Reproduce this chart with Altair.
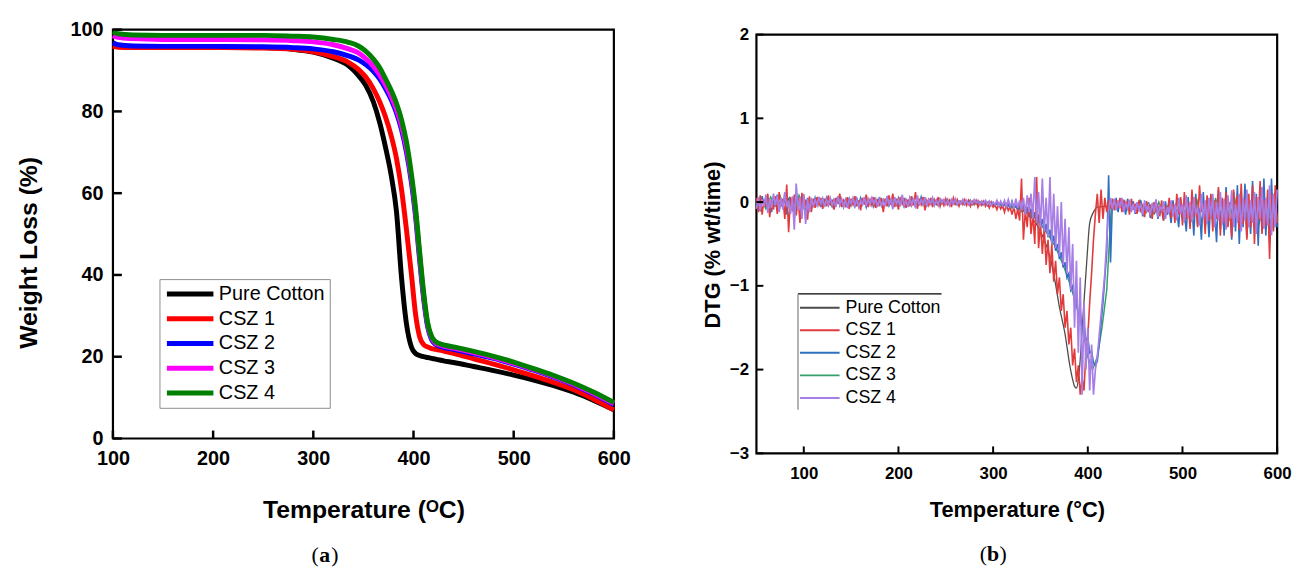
import altair as alt
import pandas as pd

# ---------------- Panel (a): TGA ----------------
series_names = ["Pure Cotton", "CSZ 1", "CSZ 2", "CSZ 3", "CSZ 4"]
tga_colors = ["#000000", "#ff0000", "#0000ff", "#ff00ff", "#008000"]

tga_temp = [100, 105, 120, 150, 200, 250, 280, 300,
            320, 335, 345, 352, 360, 366, 372, 378, 383, 388,
            393, 398, 402, 406, 410, 414, 418, 422, 426, 430,
            440, 460, 480, 500, 520, 540, 560, 580, 600]
tga_pure = [96.2, 95.9, 95.7, 95.7, 95.7, 95.6, 95.2, 94.5,
            93.0, 91.2, 88.8, 86.5, 82.3, 77.5, 71.3, 64.0, 55.5, 39.5,
            28.0, 22.3, 20.8, 20.3, 20.0, 19.8, 19.6, 19.4, 19.2, 19.0,
            18.6, 17.6, 16.6, 15.5, 14.3, 12.9, 11.3, 9.3, 7.0]
tga_csz1 = [95.9, 95.7, 95.6, 95.6, 95.6, 95.5, 95.2, 94.6,
            93.4, 92.0, 90.3, 88.5, 85.5, 82.5, 78.7, 73.8, 68.5, 61.0,
            51.0, 40.0, 30.5, 25.0, 23.0, 22.4, 22.0, 21.8, 21.6, 21.4,
            20.8, 19.5, 18.2, 16.8, 15.3, 13.7, 11.9, 9.6, 7.0]
tga_csz2 = [96.8, 96.3, 96.0, 95.9, 95.9, 95.8, 95.6, 95.3,
            94.6, 93.6, 92.6, 91.5, 89.8, 88.0, 85.6, 82.7, 79.6, 75.6,
            70.0, 62.5, 54.5, 44.0, 34.5, 27.5, 24.2, 23.0, 22.6, 22.3,
            21.8, 20.7, 19.6, 18.2, 16.7, 15.0, 13.1, 10.8, 8.3]
tga_csz3 = [98.5, 98.1, 97.8, 97.6, 97.6, 97.5, 97.3, 97.0,
            96.3, 95.3, 94.3, 93.0, 91.0, 89.0, 86.5, 83.5, 80.5, 76.5,
            71.0, 63.5, 55.5, 45.0, 35.2, 28.0, 24.6, 23.3, 22.9, 22.6,
            22.1, 21.0, 19.8, 18.4, 16.9, 15.2, 13.3, 11.0, 8.5]
tga_csz4 = [99.5, 99.0, 98.7, 98.6, 98.6, 98.6, 98.4, 98.2,
            97.6, 96.9, 96.0, 94.8, 92.8, 90.8, 88.0, 85.0, 82.0, 78.0,
            72.5, 64.5, 56.5, 46.0, 36.0, 28.5, 25.0, 23.7, 23.2, 22.9,
            22.4, 21.3, 20.1, 18.7, 17.1, 15.4, 13.5, 11.3, 8.8]
tga_xticks = [100, 200, 300, 400, 500, 600]
tga_yticks = [0, 20, 40, 60, 80, 100]

# ---------------- Panel (b): DTG ----------------
dtg_colors = ["#4d4d4d", "#e23b3b", "#2f6fc0", "#35a06c", "#a77de6"]
dtg_temp = list(range(50, 601, 2))        # sampling grid of the noisy curves
dtg_temp_csz3 = list(range(50, 601, 5))

dtg_pure_temp = [50, 100, 150, 200, 250, 300,
                 320, 335, 345, 352, 360, 365, 370, 376, 381, 384,
                 386, 388, 390, 392, 395, 399, 402, 406, 410, 420,
                 450, 500, 550, 600]
dtg_pure = [-0.02, 0.0, 0.0, 0.0, 0.0, -0.02,
            -0.05, -0.12, -0.25, -0.4, -0.65, -0.92, -1.25, -1.58, -1.95, -2.12,
            -2.2, -2.22, -2.12, -1.88, -1.35, -0.69, -0.25, -0.12, -0.06, -0.05,
            -0.07, -0.1, -0.12, -0.15]

dtg_csz1 = [
    0.05, -0.12, 0.08, -0.15, 0.03, -0.06, 0.1, -0.18, 0.02, -0.09,
    0.07, -0.14, 0.12, -0.05, 0.04, -0.2, 0.21, -0.36, 0.06, -0.11,
    0.09, -0.16, 0.05, -0.25, 0.11, -0.08, 0.03, -0.21, 0.07, -0.12,
    0.04, -0.07, 0.06, -0.03, 0.05, -0.08, 0.02, -0.05, 0.08, -0.04,
    0.03, -0.09, 0.05, -0.02, 0.1, -0.06, 0.02, -0.04, 0.06, -0.08,
    0.04, -0.03, 0.07, -0.05, 0.02, -0.1, 0.05, -0.03, 0.09, -0.06,
    0.03, -0.04, 0.06, -0.07, 0.02, -0.03, 0.05, -0.12, 0.04, -0.05,
    0.08, -0.03, 0.1, -0.06, 0.04, -0.09, 0.06, -0.02, 0.05, -0.07,
    0.03, -0.05, 0.07, -0.04, 0.12, -0.08, 0.04, -0.03, 0.06, -0.1,
    0.02, -0.04, 0.05, -0.06, 0.03, -0.02, 0.06, -0.05, 0.02, -0.04,
    0.04, -0.03, 0.02, -0.06, 0.05, -0.02, 0.03, -0.05, 0.01, -0.03,
    0.03, -0.04, 0.02, -0.05, 0.01, -0.03, 0.02, -0.06, 0.0, -0.04,
    0.01, -0.05, -0.01, -0.07, 0.0, -0.06, -0.03, -0.09, -0.02, -0.08,
    -0.04, -0.12, -0.03, -0.1, -0.06, -0.15, -0.05, -0.2, -0.08, -0.22,
    0.28, -0.45, -0.1, -0.3, 0.05, -0.38, -0.15, -0.5, 0.3, -0.55,
    -0.25, -0.62, -0.3, -0.75, -0.45, -0.85, -0.5, -0.95, -0.7, -1.1,
    -0.9, -1.3, -1.1, -1.5, -1.3, -1.7, -1.5, -1.95, -1.75, -2.15,
    -1.95, -2.3, -2.1, -2.25, -1.8, -1.6, -1.2, -0.85, -0.45, -0.15,
    0.1, -0.25, 0.15, -0.2, 0.05, -0.12, 0.02, -0.08, 0.04, -0.1,
    0.02, -0.07, 0.05, -0.12, 0.03, -0.06, 0.01, -0.15, 0.04, -0.09,
    -0.02, -0.14, 0.02, -0.1, -0.04, -0.18, 0.01, -0.12, -0.03, -0.2,
    0.0, -0.11, -0.05, -0.17, 0.02, -0.22, -0.04, -0.13, 0.05, -0.19,
    -0.02, -0.25, 0.1, -0.15, 0.06, -0.28, 0.12, -0.2, 0.0, -0.32,
    0.15, -0.18, 0.05, -0.3, 0.2, -0.12, -0.02, -0.38, 0.08, -0.22,
    0.1, -0.35, 0.02, -0.2, 0.18, -0.4, 0.05, -0.25, 0.12, -0.3,
    0.0, -0.42, 0.15, -0.18, 0.08, -0.33, 0.22, -0.27, 0.04, -0.45,
    0.1, -0.3, 0.2, -0.5, 0.06, -0.22, 0.25, -0.38, 0.03, -0.28,
    0.15, -0.68, 0.1, -0.35, 0.2, -0.25]

dtg_csz2 = [
    -0.06, 0.04, -0.11, 0.07, -0.03, 0.05, -0.09, 0.02, -0.12, 0.06,
    -0.05, 0.09, -0.1, 0.03, -0.07, 0.1, -0.15, 0.05, -0.08, 0.04,
    -0.18, 0.12, -0.06, 0.03, -0.14, 0.08, -0.2, 0.05, -0.09, 0.03,
    -0.04, 0.05, -0.03, 0.02, -0.06, 0.04, -0.02, 0.05, -0.04, 0.02,
    -0.05, 0.03, -0.02, 0.06, -0.04, 0.02, -0.06, 0.03, -0.03, 0.04,
    -0.04, 0.02, -0.05, 0.04, -0.03, 0.05, -0.02, 0.03, -0.06, 0.02,
    -0.02, 0.04, -0.05, 0.02, -0.03, 0.06, -0.04, 0.03, -0.02, 0.05,
    -0.04, 0.02, -0.06, 0.03, -0.03, 0.05, -0.02, 0.04, -0.05, 0.03,
    -0.03, 0.05, -0.04, 0.02, -0.05, 0.04, -0.02, 0.06, -0.03, 0.02,
    -0.04, 0.03, -0.02, 0.04, -0.03, 0.02, -0.04, 0.03, -0.02, 0.02,
    -0.02, 0.03, -0.03, 0.02, -0.01, 0.02, -0.03, 0.01, -0.02, 0.02,
    -0.03, 0.01, -0.02, 0.02, -0.03, 0.0, -0.02, 0.01, -0.03, 0.01,
    -0.03, 0.0, -0.04, 0.01, -0.03, -0.01, -0.05, 0.0, -0.04, -0.02,
    -0.06, 0.0, -0.05, -0.03, -0.08, 0.01, -0.07, -0.04, -0.1, -0.02,
    -0.12, -0.03, -0.15, -0.06, -0.18, -0.08, -0.22, -0.12, -0.26, -0.15,
    -0.3, -0.2, -0.36, -0.26, -0.42, -0.33, -0.5, -0.4, -0.58, -0.5,
    -0.68, -0.6, -0.78, -0.72, -0.9, -0.85, -1.05, -1.0, -1.2, -1.15,
    -1.35, -1.3, -1.5, -1.45, -1.65, -1.62, -1.8, -1.78, -1.92, -1.95,
    -1.9, -1.7, -1.45, -1.2, -0.9, -0.6, 0.32, -0.72, 0.02, -0.08,
    0.05, -0.12, 0.03, -0.08, -0.02, -0.15, 0.04, -0.06, -0.1, 0.01,
    -0.14, -0.03, -0.09, 0.02, -0.17, -0.05, -0.11, 0.0, -0.19, -0.07,
    -0.12, 0.03, -0.2, -0.04, -0.1, -0.22, 0.01, -0.15, -0.08, -0.25,
    0.02, -0.18, -0.1, -0.3, 0.04, -0.2, -0.12, -0.35, 0.06, -0.24,
    -0.05, -0.4, 0.1, -0.28, -0.08, -0.45, 0.12, -0.3, -0.02, -0.42,
    0.08, -0.25, -0.1, -0.48, 0.15, -0.32, 0.02, -0.4, 0.18, -0.28,
    -0.05, -0.45, 0.12, -0.35, 0.2, -0.5, 0.05, -0.3, 0.22, -0.42,
    0.0, -0.38, 0.25, -0.3, 0.1, -0.52, 0.18, -0.35, 0.28, -0.4,
    0.05, -0.48, 0.28, -0.32, 0.12, -0.3]

dtg_csz3 = [
    -0.05, 0.04, -0.08, 0.06, -0.04, 0.07, -0.1, 0.05, -0.12, 0.08,
    -0.06, 0.03, -0.04, 0.05, -0.03, 0.02, -0.05, 0.04, -0.02, 0.03,
    -0.03, 0.02, -0.04, 0.03, -0.02, 0.04, -0.03, 0.02, -0.04, 0.03,
    -0.02, 0.03, -0.04, 0.02, -0.03, 0.04, -0.02, 0.03, -0.03, 0.02,
    -0.02, 0.02, -0.03, 0.01, -0.02, 0.02, -0.03, 0.01, -0.02, 0.0,
    -0.03, -0.01, -0.05, -0.03, -0.07, -0.06, -0.1, -0.12, -0.16, -0.2,
    -0.26, -0.34, -0.42, -0.52, -0.64, -0.78, -0.94, -1.12, -1.32, -1.55,
    -1.85, -2.0, -1.85, -1.5, -1.05, -0.02, -0.06, 0.03, -0.08, -0.02,
    -0.1, 0.02, -0.12, -0.03, -0.14, 0.0, -0.15, -0.04, -0.12, 0.02,
    -0.18, -0.05, -0.2, 0.04, -0.22, -0.06, -0.18, 0.05, -0.25, -0.08,
    -0.2, 0.06, -0.28, -0.1, -0.18, 0.08, -0.3, -0.05, -0.22, 0.1,
    -0.2]

dtg_csz4 = [
    -0.08, 0.06, -0.1, 0.03, -0.05, 0.09, -0.13, 0.04, -0.07, 0.1,
    -0.04, 0.08, -0.12, 0.05, -0.09, 0.12, -0.06, 0.02, -0.14, 0.07,
    -0.33, 0.22, -0.1, 0.06, -0.2, 0.1, -0.26, 0.04, -0.12, 0.05,
    -0.05, 0.03, -0.04, 0.06, -0.02, 0.04, -0.06, 0.03, -0.03, 0.05,
    -0.04, 0.02, -0.06, 0.07, -0.03, 0.04, -0.05, 0.02, -0.07, 0.03,
    -0.02, 0.05, -0.04, 0.03, -0.06, 0.02, -0.03, 0.06, -0.05, 0.04,
    -0.03, 0.05, -0.02, 0.04, -0.06, 0.03, -0.04, 0.02, -0.05, 0.07,
    -0.03, 0.04, -0.08, 0.06, -0.02, 0.03, -0.05, 0.09, -0.04, 0.02,
    -0.06, 0.04, -0.03, 0.05, -0.07, 0.08, -0.04, 0.03, -0.02, 0.06,
    -0.05, 0.03, -0.02, 0.05, -0.04, 0.02, -0.03, 0.04, -0.01, 0.03,
    -0.03, 0.02, -0.04, 0.03, -0.02, 0.04, -0.03, 0.01, -0.02, 0.03,
    -0.02, 0.02, -0.03, 0.01, -0.02, 0.03, -0.01, 0.02, -0.03, 0.01,
    -0.02, 0.02, -0.03, 0.01, -0.04, 0.0, -0.03, 0.02, -0.05, 0.01,
    -0.04, 0.02, -0.06, 0.03, -0.05, 0.0, -0.08, 0.04, -0.07, 0.02,
    -0.1, 0.05, -0.15, 0.08, -0.12, 0.1, -0.2, 0.3, -0.25, 0.12,
    -0.3, 0.28, -0.35, 0.05, -0.42, 0.3, -0.5, 0.1, -0.55, -0.05,
    -0.65, 0.0, -0.75, -0.2, -0.85, -0.3, -1.05, -0.5, -1.5, -0.7,
    -1.8, -0.9, -2.3, -1.2, -2.0, -1.5, -2.25, -1.7, -2.3, -2.0,
    -1.85, -1.6, -1.35, -1.1, -0.85, -0.45, -0.1, 0.05, -0.08, 0.04,
    -0.1, 0.02, -0.07, 0.05, -0.12, -0.01, -0.08, 0.03, -0.11, -0.02,
    -0.13, 0.0, -0.09, -0.02, -0.15, 0.02, -0.1, -0.04, -0.16, -0.01,
    -0.12, 0.03, -0.18, -0.05, -0.1, 0.01, -0.2, -0.06, -0.13, 0.02,
    -0.17, -0.03, -0.22, 0.05, -0.14, -0.02, -0.25, 0.08, -0.18, 0.0,
    -0.24, 0.06, -0.15, -0.05, -0.28, 0.1, -0.2, 0.02, -0.26, 0.05,
    -0.18, 0.1, -0.3, 0.0, -0.22, 0.12, -0.27, 0.04, -0.33, 0.08,
    -0.2, 0.14, -0.3, -0.02, -0.25, 0.1, -0.35, 0.05, -0.22, 0.15,
    -0.3, 0.02, -0.25, 0.12, -0.38, 0.06, -0.2, 0.18, -0.32, 0.05,
    -0.28, 0.2, -0.4, 0.1, -0.3, 0.15]

dtg_xticks = [100, 200, 300, 400, 500, 600]
dtg_yticks = [-3, -2, -1, 0, 1, 2]

# ---------------- layout constants ----------------
W_A, H_A = 506, 413
W_B, H_B = 526, 423
B_DROP = 5          # panel (b) frame sits a little lower than panel (a)
FONT = "Liberation Sans"
one = pd.DataFrame({"k": [0]})


def ghost(x, y, align):
    # invisible text that fixes the bounds of a panel
    return alt.Chart(one).mark_text(text="x", opacity=0, fontSize=10, align=align,
                                    baseline="top").encode(x=alt.value(x), y=alt.value(y))


def caption(letter, cx, cy):
    common = dict(font="Liberation Serif", fontSize=22, baseline="middle", color="black")
    return [
        alt.Chart(one).mark_text(text="(", align="right", **common).encode(
            x=alt.value(cx - 6), y=alt.value(cy)),
        alt.Chart(one).mark_text(text=letter, align="center", fontWeight="bold", **common).encode(
            x=alt.value(cx), y=alt.value(cy)),
        alt.Chart(one).mark_text(text=")", align="left", **common).encode(
            x=alt.value(cx + 6.5), y=alt.value(cy)),
    ]


# ---------------- Panel (a) ----------------
xa_axis = alt.Axis(values=tga_xticks, title="Temperature (ᴼC)", titleFont=FONT, titleFontSize=25,
                   titleFontWeight="bold", titleColor="black", titleX=W_A / 2, titleY=72,
                   titleBaseline="middle", titleAlign="center",
                   labelFont=FONT, labelFontSize=20, labelFontWeight="bold", labelColor="black",
                   labelPadding=10, ticks=False, domain=False, grid=False, labelFlush=False,
                   labelOverlap=False)
ya_axis = alt.Axis(values=tga_yticks, title="Weight Loss (%)", titleFont=FONT, titleFontSize=25,
                   titleFontWeight="bold", titleColor="black", titleX=-85, titleY=225,
                   titleBaseline="middle", titleAlign="center",
                   labelFont=FONT, labelFontSize=20, labelFontWeight="bold", labelColor="black",
                   labelPadding=10, ticks=False, domain=False, grid=False, labelFlush=False,
                   labelOverlap=False)
xa = alt.X("T:Q", scale=alt.Scale(domain=[100, 600], nice=False, zero=False), axis=xa_axis)
ya = alt.Y("V:Q", scale=alt.Scale(domain=[0, 100], nice=False), axis=ya_axis)
legend_a = alt.Legend(title=None, orient="none", legendX=47, legendY=252, direction="vertical",
                      symbolType="stroke", symbolSize=2209, symbolStrokeWidth=5, clipHeight=20,
                      rowPadding=5, labelFont=FONT, labelFontSize=20, labelColor="black",
                      labelOffset=3, padding=5, strokeColor="#8c8c8c", fillColor="white")
color_a = alt.Color("Sample:N", scale=alt.Scale(domain=series_names, range=tga_colors),
                    legend=legend_a)

tga_values = [tga_pure, tga_csz1, tga_csz2, tga_csz3, tga_csz4]
layers_a = []
for name, vals in zip(series_names, tga_values):
    df = pd.DataFrame({"T": tga_temp, "V": vals, "Sample": name})
    layers_a.append(alt.Chart(df).mark_line(strokeWidth=5, interpolate="monotone")
                    .encode(x=xa, y=ya, color=color_a))

ticks_xa = alt.Chart(pd.DataFrame({"T": tga_xticks})).mark_rule(color="black", strokeWidth=2.5).encode(
    x=xa, y=alt.value(H_A), y2=alt.value(H_A - 8))
ticks_ya = alt.Chart(pd.DataFrame({"V": tga_yticks})).mark_rule(color="black", strokeWidth=2.5).encode(
    y=ya, x=alt.value(0), x2=alt.value(9))

panel_a = alt.layer(*layers_a, ticks_xa, ticks_ya, *caption("a", 214, 531),
                    ghost(-104, -17, "left"), ghost(530, -17, "right")).properties(
    width=W_A, height=H_A)

# ---------------- Panel (b) ----------------
xb_axis = alt.Axis(values=dtg_xticks, title="Temperature (°C)", titleFont=FONT, titleFontSize=22,
                   titleFontWeight="bold", titleColor="black", titleX=W_B / 2, titleY=57,
                   titleBaseline="middle", titleAlign="center",
                   labelFont=FONT, labelFontSize=17, labelFontWeight="bold", labelColor="black",
                   labelPadding=12, ticks=False, domain=False, grid=False, labelFlush=False,
                   labelOverlap=False)
yb_axis = alt.Axis(values=dtg_yticks, title="DTG (% wt/time)", titleFont=FONT, titleFontSize=22,
                   titleFontWeight="bold", titleColor="black", titleX=-44, titleY=212,
                   titleBaseline="middle", titleAlign="center",
                   labelFont=FONT, labelFontSize=17, labelFontWeight="bold", labelColor="black",
                   labelPadding=8, ticks=False, domain=False, grid=False, labelFlush=False,
                   labelOverlap=False)
xb = alt.X("T:Q", scale=alt.Scale(domain=[50, 600], nice=False, zero=False), axis=xb_axis)
yb = alt.Y("V:Q", scale=alt.Scale(domain=[-3, 2], nice=False), axis=yb_axis)
legend_b = alt.Legend(title=None, orient="none", legendX=43, legendY=267, direction="vertical",
                      symbolType="stroke", symbolSize=1600, symbolStrokeWidth=2, clipHeight=18,
                      rowPadding=4.75, labelFont=FONT, labelFontSize=18, labelColor="black",
                      labelOffset=5, padding=0)
color_b = alt.Color("Series:N", scale=alt.Scale(domain=series_names, range=dtg_colors),
                    legend=legend_b)

dtg_layers_spec = [
    ("Pure Cotton", dtg_pure_temp, dtg_pure, "monotone", 1.3),
    ("CSZ 3", dtg_temp_csz3, dtg_csz3, "linear", 1.5),
    ("CSZ 2", dtg_temp, dtg_csz2, "linear", 1.6),
    ("CSZ 1", dtg_temp, dtg_csz1, "linear", 1.6),
    ("CSZ 4", dtg_temp, dtg_csz4, "linear", 1.7),
]
layers_b = []
for name, temps, vals, interp, sw in dtg_layers_spec:
    df = pd.DataFrame({"T": temps, "V": vals, "Series": name})
    layers_b.append(alt.Chart(df).mark_line(strokeWidth=sw, interpolate=interp)
                    .encode(x=xb, y=yb, color=color_b))

ticks_xb = alt.Chart(pd.DataFrame({"T": dtg_xticks})).mark_rule(color="black", strokeWidth=2).encode(
    x=xb, y=alt.value(H_B), y2=alt.value(H_B - 7))
ticks_yb = alt.Chart(pd.DataFrame({"V": dtg_yticks})).mark_rule(color="black", strokeWidth=2).encode(
    y=yb, x=alt.value(0), x2=alt.value(7))

leg_top = alt.Chart(one).mark_rule(color="black", strokeWidth=1.3).encode(
    x=alt.value(42), x2=alt.value(187), y=alt.value(262))
leg_left = alt.Chart(one).mark_rule(color="#9a9a9a", strokeWidth=1.5).encode(
    x=alt.value(42), y=alt.value(262), y2=alt.value(379))

panel_b = alt.layer(*layers_b, ticks_xb, ticks_yb, leg_top, leg_left, *caption("b", 239, 525),
                    ghost(-60, 0, "left")).properties(width=W_B, height=H_B)

spacer = alt.Chart(one).mark_point(opacity=0, size=1).encode(
    x=alt.value(0), y=alt.value(0)).properties(
    width=W_B, height=B_DROP, view=alt.ViewBackground(strokeOpacity=0, strokeWidth=0))

right = alt.vconcat(spacer, panel_b, spacing=0, bounds="flush").resolve_legend(
    color="independent").resolve_scale(color="independent")

chart = alt.hconcat(panel_a, right, spacing=56).resolve_scale(
    color="independent", x="independent", y="independent").resolve_legend(
    color="independent").properties(padding=0).configure_view(
    stroke="black", strokeWidth=2.2)

chart.save("out.html", embed_options={"renderer": "svg", "actions": False})
